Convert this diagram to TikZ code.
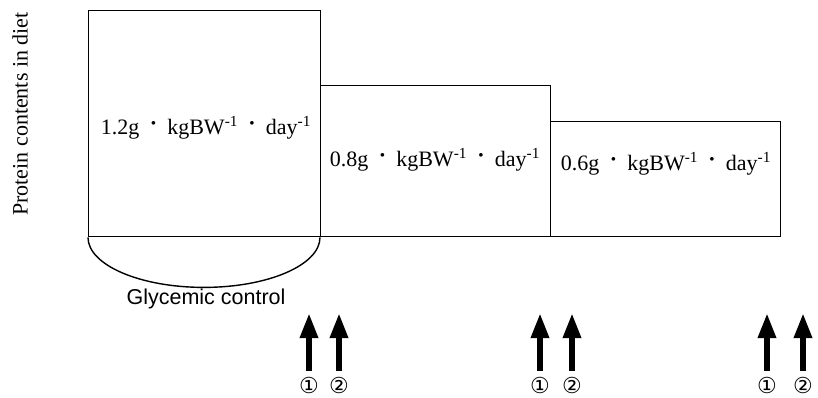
\documentclass[tikz,border=0pt]{standalone}
\usepackage{fontspec}
\setmainfont{Liberation Serif}
\setsansfont{Liberation Sans}
\newfontfamily\circfont{DejaVu Sans}
\usetikzlibrary{arrows.meta}
\newcommand{\perunit}{\hspace{0.4em}\raisebox{0.1ex}{\scalebox{1.4}{·}}\hspace{0.4em}}
\newcommand{\dosetext}[1]{#1g\perunit kgBW\textsuperscript{-1}\perunit day\textsuperscript{-1}}
\begin{document}
\begin{tikzpicture}[
    x=1pt,y=-1pt,
    every node/.style={font=\fontsize{22}{26}\selectfont},
    frame/.style={draw=black, line width=1.4pt},
    box/.style={frame, rectangle, anchor=north west, inner sep=0pt},
    dose/.style={inner sep=0pt},
    uparrow/.style={line width=6pt, -{Triangle[width=17pt,length=25pt]}},
    numlab/.style={font=\circfont\fontsize{22}{26}\selectfont, inner sep=1pt}
]
    \useasboundingbox (0,0) rectangle (818,398);

    \node[box, minimum width=232pt, minimum height=226pt] (b1) at (88,10) {};
    \node[box, minimum width=230pt, minimum height=151pt] (b2) at (320,85) {};
    \node[box, minimum width=230pt, minimum height=115pt] (b3) at (550,121) {};

    \node[dose] (d1) at (206,128) {\dosetext{1.2}};
    \node[dose] (d2) at (435,160) {\dosetext{0.8}};
    \node[dose] (d3) at (666,164) {\dosetext{0.6}};

    \draw[frame] (b1.south west) arc[start angle=180, end angle=0, x radius=116, y radius=50];
    \node[font=\sffamily\fontsize{21.5}{25}\selectfont] (gc) at (206,299) {Glycemic control};

    \node[rotate=90] (ylab) at (20,114) {Protein contents in diet};

    \foreach \i/\xa/\xb in {1/309/339, 2/540/572, 3/767/803} {
        \node[numlab] (n\i a) at (\xa,385) {①};
        \node[numlab] (n\i b) at (\xb,385) {②};
        \coordinate (t\i a) at (\xa,313);
        \coordinate (t\i b) at (\xb,313);
        \draw[uparrow] ([yshift=5pt]n\i a.north) -- (t\i a);
        \draw[uparrow] ([yshift=5pt]n\i b.north) -- (t\i b);
    }
\end{tikzpicture}
\end{document}
